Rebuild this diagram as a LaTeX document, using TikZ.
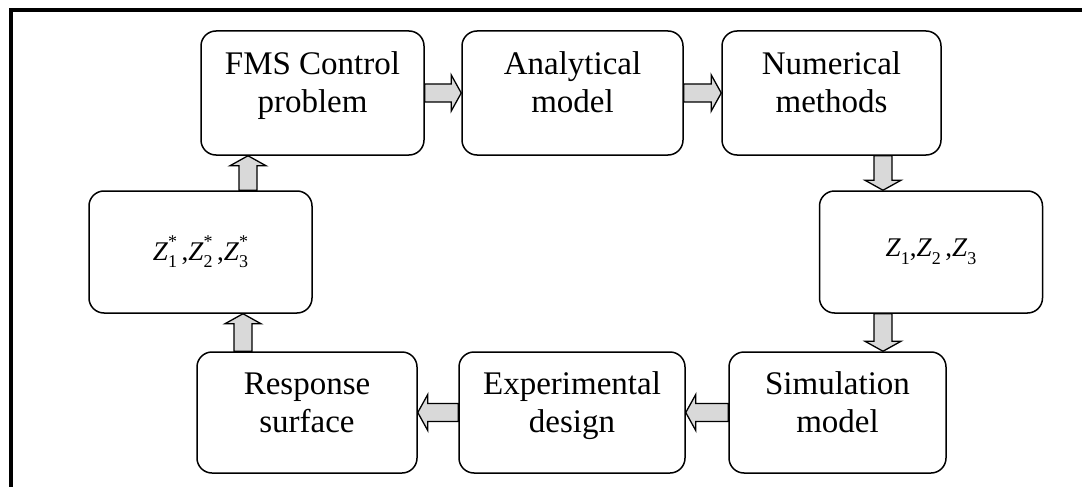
\documentclass[tikz,border=0pt]{standalone}
\usepackage{fontspec}
\setmainfont{Liberation Serif}
\usetikzlibrary{calc}
\definecolor{arrowgray}{HTML}{D9D9D9}

% two centred lines, set a little above the middle of the box
\newcommand{\boxlines}[2]{\raisebox{7pt}[\height][\depth]{\begin{tabular}{@{}c@{}}#1\\#2\end{tabular}}}
% Z with subscript and (optional) star
\newcommand{\zsym}[2]{\textit{Z}\rlap{\raisebox{.45em}{\fontsize{18}{18}\selectfont #2}}\raisebox{-.28em}{\fontsize{18}{18}\selectfont #1}}

\tikzset{
  stagebox/.style={draw, line width=1.5pt, rounded corners=15pt,
    minimum width=#1, minimum height=122pt, inner sep=0pt, align=center,
    font=\fontsize{33}{38}\selectfont},
  varbox/.style={stagebox=#1, font=\fontsize{27}{30}\selectfont},
  % block arrow: shaft 18pt, head 36pt wide, 10pt long
  flowarrow/.style={draw=black, line width=1.3pt, fill=arrowgray, line join=miter,
    to path={
      ($(\tikztostart)!9pt!90:(\tikztotarget)$)
      -- ($(\tikztotarget)!10pt!(\tikztostart)!9pt!90:(\tikztotarget)$)
      -- ($(\tikztotarget)!10pt!(\tikztostart)!18pt!90:(\tikztotarget)$)
      -- (\tikztotarget)
      -- ($(\tikztotarget)!10pt!(\tikztostart)!18pt!-90:(\tikztotarget)$)
      -- ($(\tikztotarget)!10pt!(\tikztostart)!9pt!-90:(\tikztotarget)$)
      -- ($(\tikztostart)!9pt!-90:(\tikztotarget)$) -- cycle}}
}

\begin{document}
\begin{tikzpicture}[x=1pt,y=-1pt]
\useasboundingbox (0,0) rectangle (1082,487);
\draw[line width=4pt] (10.5,487) -- (10.5,10) -- (1082,10);

% top row
\node[stagebox=223pt, minimum height=124pt] (fms) at (312.5,93) {\boxlines{FMS Control}{problem}};
\node[stagebox=221pt, minimum height=124pt] (ana) at (572.5,93) {\boxlines{Analytical}{model}};
\node[stagebox=219pt, minimum height=124pt] (num) at (831.5,93) {\boxlines{Numerical}{methods}};

% middle row
\node[varbox=223pt] (zstar) at (200.5,252) {\zsym{1}{*}\,,\zsym{2}{*}\,,\zsym{3}{*}};
\node[varbox=223pt] (zval) at (931,252) {\zsym{1}{},\zsym{2}{}\,,\zsym{3}{}};

% bottom row
\node[stagebox=220pt, minimum height=121pt] (resp) at (307,412.5) {\boxlines{Response}{surface}};
\node[stagebox=226pt, minimum height=121pt] (expd) at (572,412.5) {\boxlines{Experimental}{design}};
\node[stagebox=217pt, minimum height=121pt] (sim) at (837.5,412.5) {\boxlines{Simulation}{model}};

\coordinate (dn1) at ([xshift=51.5pt]num.south);
\coordinate (dn2) at (dn1 |- zval.south);
\coordinate (up1) at ([xshift=-64pt]resp.north);
\coordinate (up2) at ([xshift=47.5pt]zstar.north);

\draw[flowarrow] (fms.east) to (ana.west);
\draw[flowarrow] (ana.east) to (num.west);
\draw[flowarrow] (dn1) to (dn1 |- zval.north);
\draw[flowarrow] (dn2) to (dn2 |- sim.north);
\draw[flowarrow] (sim.west) to (expd.east);
\draw[flowarrow] (expd.west) to (resp.east);
\draw[flowarrow] (up1) to (up1 |- zstar.south);
\draw[flowarrow] (up2) to (up2 |- fms.south);
\end{tikzpicture}
\end{document}
